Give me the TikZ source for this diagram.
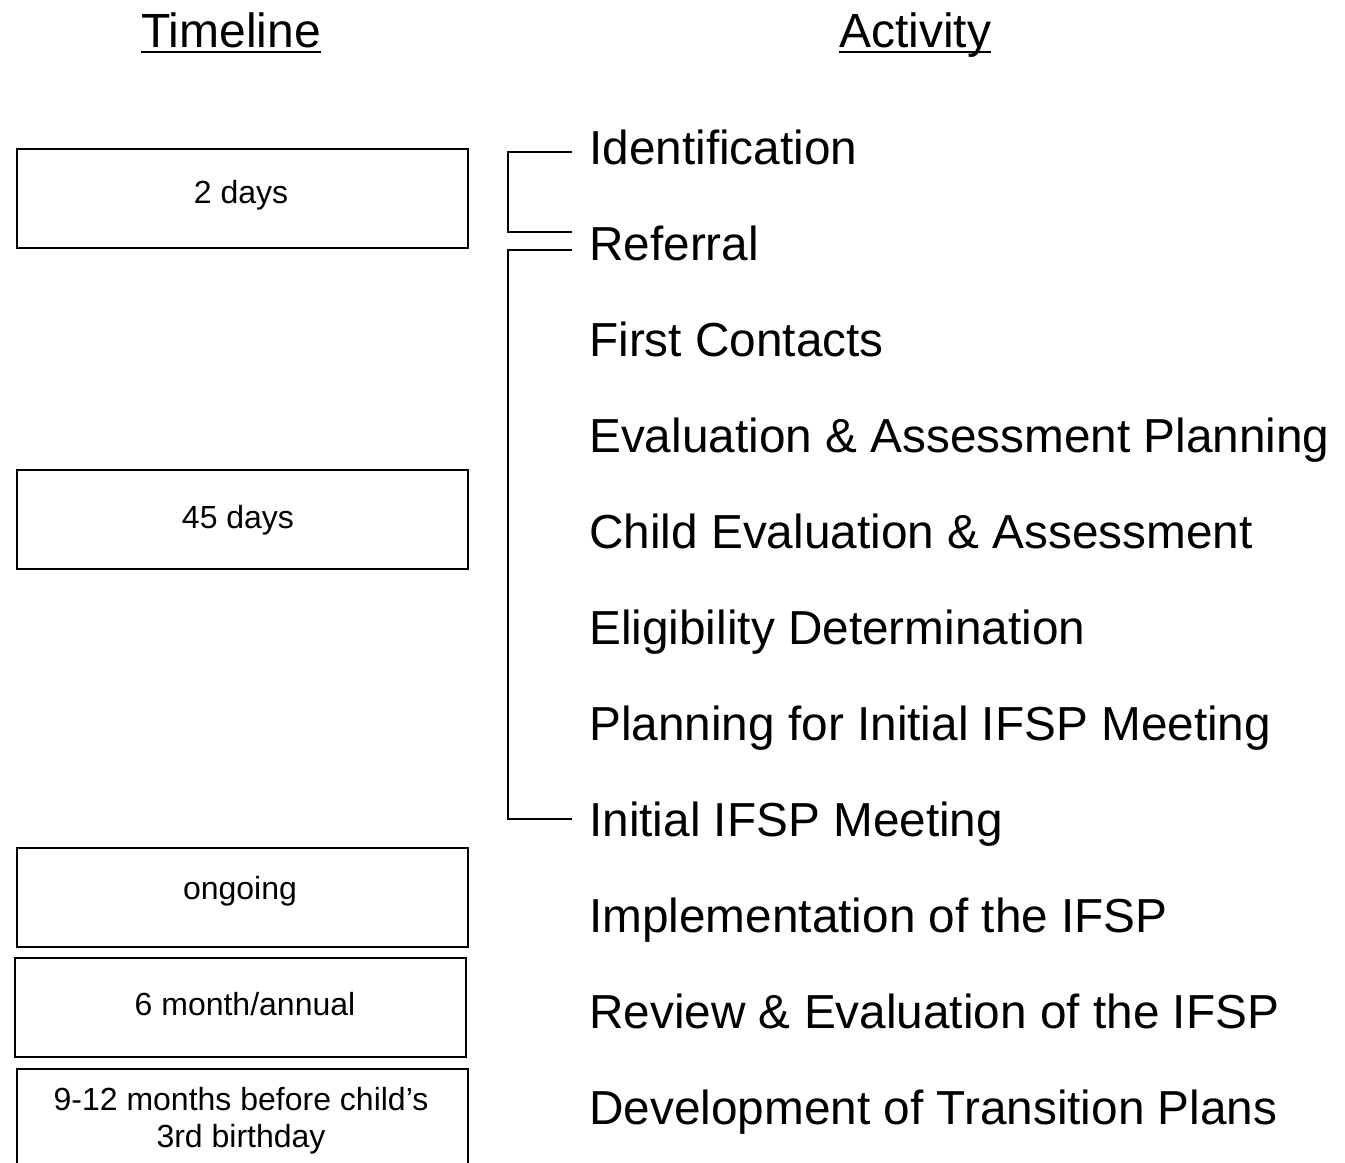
\documentclass[tikz,border=0pt]{standalone}
\usepackage{fontspec}
\setmainfont{Liberation Sans}
\begin{document}
\begin{tikzpicture}[x=0.75pt,y=-0.75pt,
  tbox/.style={draw,line width=1.5pt,minimum width=451*0.75pt,minimum height=99*0.75pt,inner sep=0pt,anchor=north west},
  tlabel/.style={inner sep=0pt,align=center,font=\fontsize{24}{28}\selectfont},
  act/.style={inner sep=0pt,anchor=base west,font=\fontsize{35.8}{40}\selectfont},
  hdr/.style={inner sep=0pt,anchor=base,font=\fontsize{36}{40}\selectfont},
  brk/.style={line width=1.5pt}]
\useasboundingbox (0,0) rectangle (1345,1163);
% headers
\node[hdr] (hT) at (231,48) {Timeline};
\node[hdr] (hA) at (915,48) {Activity};
\draw[line width=2pt] (hT.base west) ++(0,4) coordinate (uT1) -- (hT.base east |- uT1);
\draw[line width=2pt] (hA.base west) ++(0,4) coordinate (uA1) -- (hA.base east |- uA1);
% timeline boxes
\node[tbox] (b1) at (16,148) {};
\node[tlabel] (t1) at (241,195) {2 days};
\node[tbox] (b2) at (16,469) {};
\node[tlabel] (t2) at (238,520) {45 days};
\node[tbox] (b3) at (16,847) {};
\node[tlabel] (t3) at (240,891) {ongoing};
\node[tbox] (b4) at (14,957) {};
\node[tlabel] (t4) at (245,1004) {6 month/annual};
\node[tbox,minimum height=120*0.75pt] (b5) at (16,1068) {};
\node[tlabel] (t5) at (241,1121) {9-12 months before child’s\\3rd birthday};
% activities
\node[act] (a1) at (589,164) {Identification};
\node[act] (a2) at (589,260) {Referral};
\node[act] (a3) at (589,356) {First Contacts};
\node[act] (a4) at (589,452) {Evaluation \& Assessment Planning};
\node[act] (a5) at (589,548) {Child Evaluation \& Assessment};
\node[act] (a6) at (589,644) {Eligibility Determination};
\node[act] (a7) at (589,740) {Planning for Initial IFSP Meeting};
\node[act] (a8) at (589,836) {Initial IFSP Meeting};
\node[act] (a9) at (589,932) {Implementation of the IFSP};
\node[act] (a10) at (589,1028) {Review \& Evaluation of the IFSP};
\node[act] (a11) at (589,1124) {Development of Transition Plans};
% brackets
\coordinate (p1) at (572,152);
\coordinate (p2) at (572,232);
\coordinate (p3) at (572,250);
\coordinate (p4) at (572,819);
\draw[brk] (p1) -- ++(-64,0) |- (p2);
\draw[brk] (p3) -- ++(-64,0) |- (p4);
\end{tikzpicture}
\end{document}
